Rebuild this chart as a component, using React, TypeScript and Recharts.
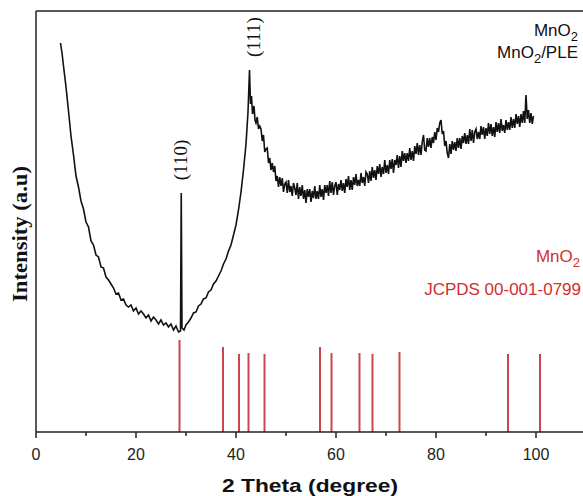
import { LineChart, Line, XAxis, YAxis, ReferenceLine, ReferenceDot } from "recharts";

// XRD trace of MnO2/PLE (2θ in degrees, intensity in arbitrary units)
const lowTheta = [
  4.9, 5.2, 5.5, 6.0, 6.5, 7.0, 7.5, 8.0, 8.5, 9.0, 9.5, 10.0, 10.5, 11.0, 11.5, 12.0,
  12.5, 13.0, 13.5, 14.0, 14.5, 15.0, 15.5, 16.0, 16.5, 17.0, 17.5, 18.0, 18.5, 19.0,
  19.5, 20.0, 20.5, 21.0, 21.5, 22.0, 22.5, 23.0, 23.5, 24.0, 24.5, 25.0, 25.5, 26.0,
  26.5, 27.0, 27.5, 28.0, 28.5,
];
const lowIntensity = [
  389, 379, 366, 345, 321, 296, 277, 256, 245, 231, 223, 210, 205, 191, 187, 177,
  175, 165, 164, 155, 152, 148, 144, 138, 139, 132, 133, 127, 125, 127,
  121, 124, 118, 121, 118, 114, 117, 111, 115, 112, 108, 112, 107, 109,
  105, 108, 102, 106, 100,
];

const peakTheta = [
  28.9, 29.05, 29.2, 29.6, 30.0, 30.5, 31.0, 31.5, 32.0, 32.5, 33.0, 33.5, 34.0, 34.5,
  35.0, 35.5, 36.0, 36.5, 37.0, 37.5, 38.0, 38.5, 39.0, 39.5, 40.0, 40.5, 41.0, 41.5,
  42.0, 42.4, 42.7, 42.9, 43.1, 43.3, 43.6, 43.8, 44.0, 44.25, 44.5, 44.75,
];
const peakIntensity = [
  101, 239, 104, 102, 107, 110, 114, 119, 120, 126, 128, 133, 134, 140,
  142, 148, 151, 156, 161, 168, 173, 181, 187, 197, 207, 222, 240, 262,
  288, 320, 362, 328, 336, 318, 326, 312, 309, 315, 303, 306,
];

const highTheta = [
  45.0, 45.25, 45.5, 45.75, 46.0, 46.25, 46.5, 46.75, 47.0, 47.25, 47.5, 47.75, 48.0, 48.25, 48.5, 48.75,
  49.0, 49.25, 49.5, 49.75, 50.0, 50.25, 50.5, 50.75, 51.0, 51.25, 51.5, 51.75, 52.0, 52.25, 52.5, 52.75,
  53.0, 53.25, 53.5, 53.75, 54.0, 54.25, 54.5, 54.75, 55.0, 55.25, 55.5, 55.75, 56.0, 56.25, 56.5, 56.75,
  57.0, 57.25, 57.5, 57.75, 58.0, 58.25, 58.5, 58.75, 59.0, 59.25, 59.5, 59.75, 60.0, 60.25, 60.5, 60.75,
  61.0, 61.25, 61.5, 61.75, 62.0, 62.25, 62.5, 62.75, 63.0, 63.25, 63.5, 63.75, 64.0, 64.25, 64.5, 64.75,
  65.0, 65.25, 65.5, 65.75, 66.0, 66.25, 66.5, 66.75, 67.0, 67.25, 67.5, 67.75, 68.0, 68.25, 68.5, 68.75,
  69.0, 69.25, 69.5, 69.75, 70.0, 70.25, 70.5, 70.75, 71.0, 71.25, 71.5, 71.75, 72.0, 72.25, 72.5, 72.75,
  73.0, 73.25, 73.5, 73.75, 74.0, 74.25, 74.5, 74.75, 75.0, 75.25, 75.5, 75.75, 76.0, 76.25, 76.5, 76.75,
  77.0, 77.25, 77.5, 77.75, 78.0, 78.25, 78.5, 78.75, 79.0, 79.25, 79.5, 79.75, 80.0, 80.25, 80.5, 80.75,
  81.0, 81.25, 81.5, 81.75, 82.0, 82.25, 82.5, 82.75, 83.0, 83.25, 83.5, 83.75, 84.0, 84.25, 84.5, 84.75,
  85.0, 85.25, 85.5, 85.75, 86.0, 86.25, 86.5, 86.75, 87.0, 87.25, 87.5, 87.75, 88.0, 88.25, 88.5, 88.75,
  89.0, 89.25, 89.5, 89.75, 90.0, 90.25, 90.5, 90.75, 91.0, 91.25, 91.5, 91.75, 92.0, 92.25, 92.5, 92.75,
  93.0, 93.25, 93.5, 93.75, 94.0, 94.25, 94.5, 94.75, 95.0, 95.25, 95.5, 95.75, 96.0, 96.25, 96.5, 96.75,
  97.0, 97.25, 97.5, 97.75, 98.0, 98.25, 98.5, 98.75, 99.0, 99.25, 99.5,
];
const highIntensity = [
  303, 291, 297, 280, 283, 284, 269, 274, 262, 269, 260, 266, 251, 256, 245, 255,
  246, 254, 240, 248, 250, 239, 252, 240, 246, 236, 249, 244, 237, 249, 233, 245,
  236, 247, 233, 242, 229, 243, 235, 243, 230, 241, 234, 246, 233, 241, 233, 247,
  235, 243, 232, 247, 239, 247, 236, 251, 239, 250, 237, 246, 250, 237, 248, 242,
  252, 241, 249, 239, 253, 245, 256, 242, 252, 242, 255, 247, 258, 246, 252, 246,
  259, 249, 255, 246, 260, 258, 249, 261, 251, 265, 254, 262, 252, 266, 258, 268,
  255, 265, 258, 272, 259, 267, 258, 272, 263, 273, 259, 272, 267, 277, 264, 276,
  265, 281, 271, 279, 269, 279, 271, 284, 272, 281, 271, 286, 278, 289, 277, 287,
  277, 290, 297, 282, 281, 294, 285, 294, 284, 295, 289, 300, 292, 304, 300, 309,
  312, 298, 301, 286, 291, 279, 274, 288, 278, 291, 282, 290, 281, 294, 284, 294,
  283, 296, 289, 299, 288, 297, 288, 303, 291, 302, 289, 300, 303, 293, 300, 293,
  306, 297, 305, 293, 304, 296, 309, 298, 308, 296, 305, 295, 310, 300, 309, 299,
  313, 301, 307, 299, 312, 302, 310, 302, 315, 304, 313, 304, 318, 308, 316, 305,
  318, 309, 321, 309, 337, 313, 322, 309, 319, 308, 316,
];

// JCPDS 00-001-0799 reference lines
const stickPos = [28.7, 37.4, 40.6, 42.5, 45.7, 56.8, 59.1, 64.7, 67.3, 72.7, 94.4, 100.8];
const stickHeight = [92, 85, 78, 79, 78, 85, 79, 79, 78, 80, 78, 78];

const xTicks = [0, 10, 20, 30, 40, 50, 60, 70, 80, 90, 100];

const hklLabels = [
  { text: "(110)", t: 28.9, v: 272 },
  { text: "(111)", t: 43.5, v: 395 },
];

const twoTheta = [...lowTheta, ...peakTheta, ...highTheta];
const intensity = [...lowIntensity, ...peakIntensity, ...highIntensity];
const data = twoTheta.map((t, i) => ({ t, v: intensity[i] }));

const SANS = "'Liberation Sans', Arial, sans-serif";
const SERIF = "'Liberation Serif', 'Times New Roman', serif";
const AXIS = "#222";
const RED = "#d02f2f";

function XTick({ x, y, payload }: any) {
  const major = payload.value % 20 === 0;
  return (
    <g>
      <line x1={x} x2={x} y1={y} y2={y + (major ? 6 : 4)} stroke={AXIS} strokeWidth={1.5} />
      {major && (
        <text x={x} y={y + 28} textAnchor="middle" fontFamily={SANS} fontSize={16} fill={AXIS}>
          {payload.value}
        </text>
      )}
    </g>
  );
}

function hklLabel(text: string) {
  return ({ viewBox }: any) => (
    <text
      transform={`translate(${viewBox.x}, ${viewBox.y}) rotate(-90)`}
      textAnchor="middle"
      dominantBaseline="central"
      fontFamily={SERIF}
      fontSize={19}
      fill="#111"
    >
      {text}
    </text>
  );
}

export default function App() {
  return (
    <div
      style={{
        position: "absolute",
        left: 0,
        top: 0,
        width: 583,
        height: 496,
        overflow: "hidden",
        background: "#fff",
      }}
    >
      <LineChart width={586} height={496} data={data} margin={{ top: 11, right: 0, bottom: 30, left: 36 }}>
        <XAxis
          dataKey="t"
          type="number"
          domain={[0, 110]}
          ticks={xTicks}
          height={34}
          tickSize={0}
          tickMargin={0}
          tickLine={false}
          tick={<XTick />}
          axisLine={{ stroke: AXIS, strokeWidth: 1.5 }}
          allowDataOverflow
        />
        <YAxis type="number" domain={[0, 421]} width={0} tick={false} tickLine={false} axisLine={false} allowDataOverflow />
        <ReferenceLine y={421} stroke={AXIS} strokeWidth={1.5} />
        <ReferenceLine x={0} stroke={AXIS} strokeWidth={1.5} />
        {stickPos.map((p, i) => (
          <ReferenceLine
            key={p}
            segment={[
              { x: p, y: 0 },
              { x: p, y: stickHeight[i] },
            ]}
            stroke="#c9464a"
            strokeWidth={2}
          />
        ))}
        <Line
          dataKey="v"
          type="linear"
          stroke="#111"
          strokeWidth={1.6}
          dot={false}
          isAnimationActive={false}
        />
        {hklLabels.map((l) => (
          <ReferenceDot
            key={l.text}
            x={l.t}
            y={l.v}
            r={0}
            fill="none"
            stroke="none"
            label={{ content: hklLabel(l.text) }}
          />
        ))}
      </LineChart>
      <svg
        width={583}
        height={496}
        style={{ position: "absolute", left: 0, top: 0, pointerEvents: "none" }}
      >
        <text
          transform="translate(20, 234) rotate(-90)"
          textAnchor="middle"
          dominantBaseline="central"
          fontFamily={SERIF}
          fontWeight="bold"
          fontSize={20}
          textLength={136}
          lengthAdjust="spacingAndGlyphs"
          fill="#111"
        >
          Intensity (a.u)
        </text>
        <text
          x={310}
          y={492}
          textAnchor="middle"
          fontFamily={SANS}
          fontWeight="bold"
          fontSize={19}
          textLength={176}
          lengthAdjust="spacingAndGlyphs"
          fill="#111"
        >
          2 Theta (degree)
        </text>
        <text x={578} y={36} textAnchor="end" fontFamily={SANS} fontSize={17} fill="#111">
          <tspan>MnO</tspan>
          <tspan fontSize={13} dy={5}>2</tspan>
        </text>
        <text x={578} y={58} textAnchor="end" fontFamily={SANS} fontSize={17} fill="#111">
          <tspan>MnO</tspan>
          <tspan fontSize={13} dy={5}>2</tspan>
          <tspan dy={-5}>/PLE</tspan>
        </text>
        <text x={580} y={262} textAnchor="end" fontFamily={SANS} fontSize={17} fill={RED}>
          <tspan>MnO</tspan>
          <tspan fontSize={13} dy={5}>2</tspan>
        </text>
        <text x={581} y={295} textAnchor="end" fontFamily={SANS} fontSize={17} fill={RED}>
          JCPDS 00-001-0799
        </text>
      </svg>
    </div>
  );
}
